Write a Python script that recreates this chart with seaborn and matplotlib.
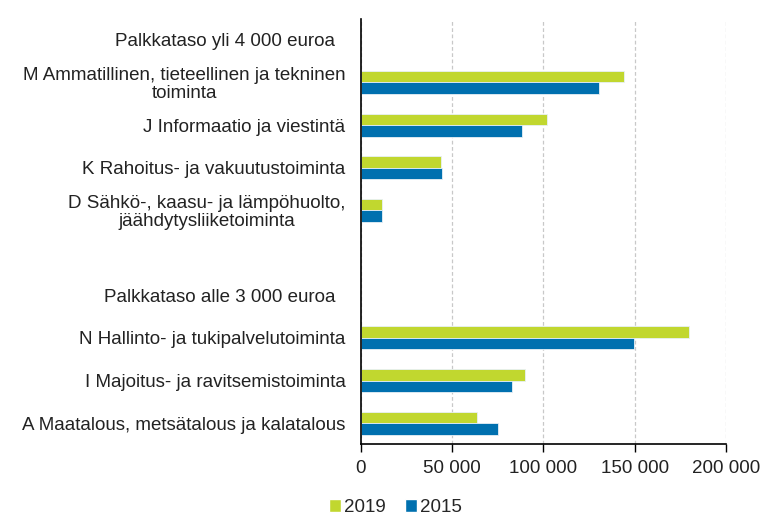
import matplotlib
matplotlib.use("Agg")
import matplotlib.pyplot as plt
import seaborn as sns
import pandas as pd
import numpy as np
from matplotlib.ticker import FuncFormatter
from matplotlib.patches import Patch

categories = [
    "Palkkataso yli 4 000 euroa  ",
    "M Ammatillinen, tieteellinen ja tekninen\ntoiminta",
    "J Informaatio ja viestintä",
    "K Rahoitus- ja vakuutustoiminta",
    "D Sähkö-, kaasu- ja lämpöhuolto,\njäähdytysliiketoiminta",
    " ",
    "Palkkataso alle 3 000 euroa  ",
    "N Hallinto- ja tukipalvelutoiminta",
    "I Majoitus- ja ravitsemistoiminta",
    "A Maatalous, metsätalous ja kalatalous",
]
values_2019 = [np.nan, 144300, 102200, 44100, 11500, np.nan, np.nan, 179700, 89900, 63500]
values_2015 = [np.nan, 130400, 88200, 44300, 11500, np.nan, np.nan, 149800, 82700, 75100]
years = ["2019", "2015"]
colors = {"2019": "#C1D72F", "2015": "#0070AF"}

df = pd.DataFrame({
    "category": categories * 2,
    "value": values_2019 + values_2015,
    "year": ["2019"] * len(categories) + ["2015"] * len(categories),
})

sns.set_theme(style="white")
plt.rcParams["font.family"] = ["Liberation Sans", "DejaVu Sans"]

fig = plt.figure(figsize=(7.63, 5.15), dpi=100)
ax = fig.add_axes([0.473, 0.137, 0.4785, 0.827])

sns.barplot(data=df, y="category", x="value", hue="year", order=categories,
            hue_order=years, palette=colors, orient="h", width=0.54,
            ax=ax, legend=False, saturation=1, linewidth=0.6, edgecolor="#e8f0f6")

ax.set_xlim(0, 200000)
ax.set_xticks([0, 50000, 100000, 150000, 200000])
ax.xaxis.set_major_formatter(FuncFormatter(lambda v, p: f"{int(v):,}".replace(",", " ")))
ax.set_xlabel("")
ax.set_ylabel("")
ax.tick_params(axis="x", length=6, width=1, color="black", labelsize=13.5, pad=5, direction="out", bottom=True)
ax.tick_params(axis="y", length=0, labelsize=13.5, pad=11)
for lbl in ax.get_yticklabels():
    lbl.set_multialignment("center")
    lbl.set_linespacing(1.05)
    lbl.set_color("#222222")
for lbl in ax.get_xticklabels():
    lbl.set_color("#222222")

ax.grid(axis="x", color="#C8C8C8", linestyle=(0, (3, 2)), linewidth=0.9)
ax.set_axisbelow(True)
for s in ["top", "right"]:
    ax.spines[s].set_visible(False)
ax.spines["left"].set_color("black")
ax.spines["left"].set_linewidth(1.2)
ax.spines["bottom"].set_color("black")
ax.spines["bottom"].set_linewidth(1.2)

handles = [Patch(facecolor=colors[y], label=y) for y in years]
fig.legend(handles=handles, loc="center", bbox_to_anchor=(0.518, 0.014), ncol=2,
           frameon=False, handlelength=0.65, handleheight=0.65,
           handletextpad=0.15, columnspacing=1.0, prop={"size": 13.5})

fig.savefig("out.png", dpi=100)
